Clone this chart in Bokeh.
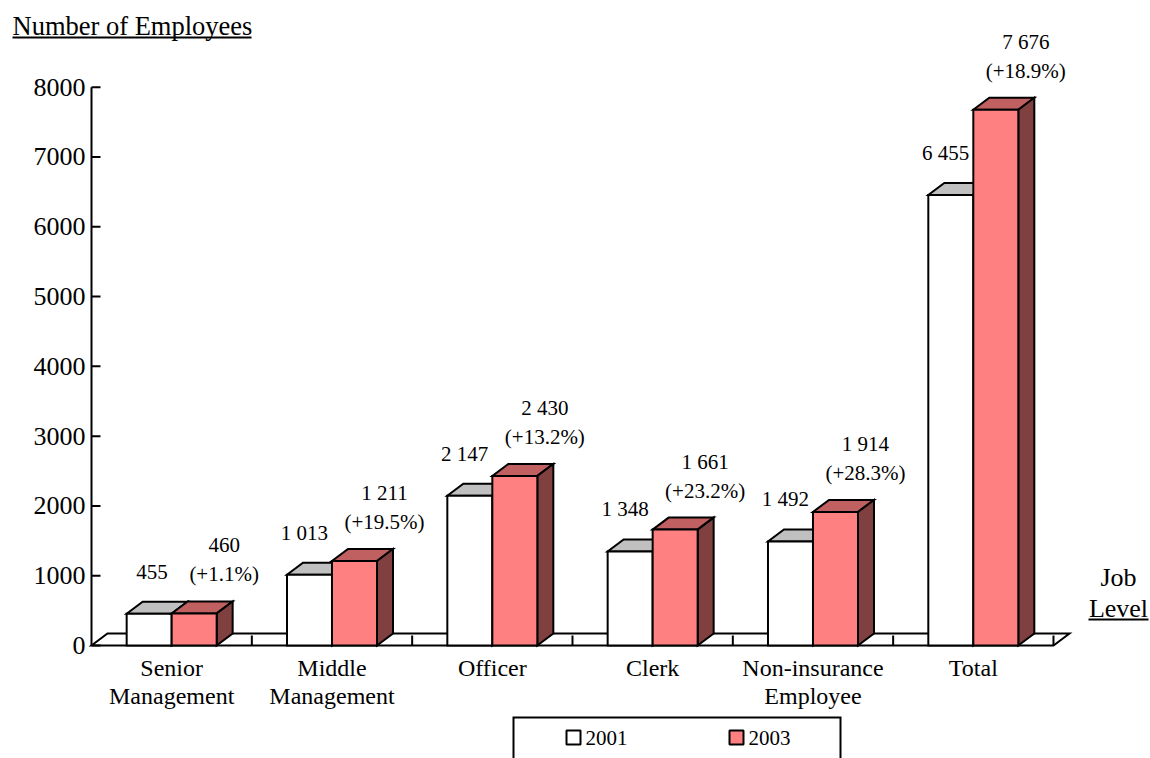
from bokeh.plotting import figure
from bokeh.models import Range1d
from bokeh.core.properties import value
from bokeh.embed import file_html
from bokeh.resources import INLINE

# ---------------- data ----------------
cat_line1 = ["Senior", "Middle", "Officer", "Clerk", "Non-insurance", "Total"]
cat_line2 = ["Management", "Management", "", "", "Employee", ""]
values_2001 = [455, 1013, 2147, 1348, 1492, 6455]
values_2003 = [460, 1211, 2430, 1661, 1914, 7676]
y_ticks = [0, 1000, 2000, 3000, 4000, 5000, 6000, 7000, 8000]
series_names = ["2001", "2003"]

# ---------------- layout constants (pixels) ----------------
W, H = 1150, 758
AX_X = 91.0          # pixel x of axis / category 0
BASE_Y = 645.0       # pixel y of value 0
PX_CAT = 160.33      # pixels per category
PX_VAL = 0.069788    # pixels per unit value
BAR_PX = 45.0
DX_PX, DY_PX = 16.0, 12.0
FONT = "Liberation Serif"

def xd(px):
    return (px - AX_X) / PX_CAT

def yd(py):
    return (BASE_Y - py) / PX_VAL

def fmt(v):
    return f"{v:,}".replace(",", " ")

bw = BAR_PX / PX_CAT
dxd = DX_PX / PX_CAT
dyd = DY_PX / PX_VAL
ncat = len(cat_line1)

p = figure(width=W, height=H, output_backend="svg", toolbar_location=None,
           x_axis_type=None, y_axis_type=None, min_border=0,
           x_range=Range1d(xd(0), xd(W)), y_range=Range1d(yd(H), yd(0)))
p.outline_line_color = None
p.background_fill_color = "white"

# floor
p.patch([0, ncat, ncat + dxd, dxd], [0, 0, dyd, dyd], fill_color="white",
        line_color="black", line_width=2, line_join="miter")
tick_len = 10 / PX_VAL
p.segment(x0=list(range(1, ncat + 1)), y0=[0] * ncat, x1=list(range(1, ncat + 1)),
          y1=[tick_len] * ncat, line_color="black", line_width=2)

# y axis
p.segment(x0=[0], y0=[0], x1=[0], y1=[max(y_ticks)], line_color="black", line_width=2)
p.segment(x0=[0] * len(y_ticks), y0=y_ticks, x1=[9 / PX_CAT] * len(y_ticks), y1=y_ticks,
          line_color="black", line_width=2)
p.text(x=[-6 / PX_CAT] * len(y_ticks), y=y_ticks, text=[str(t) for t in y_ticks],
       text_align="right", text_baseline="middle", text_font=value(FONT),
       text_font_size="26px", text_color="black")

# bars
def faces(vals, offset):
    fr_x, fr_y, tp_x, tp_y, sd_x, sd_y = [], [], [], [], [], []
    for i, v in enumerate(vals):
        c = i + 0.5
        L = c - bw + offset
        R = L + bw
        fr_x.append([L, R, R, L]); fr_y.append([0, 0, v, v])
        tp_x.append([L, R, R + dxd, L + dxd]); tp_y.append([v, v, v + dyd, v + dyd])
        sd_x.append([R, R + dxd, R + dxd, R]); sd_y.append([0, dyd, v + dyd, v])
    return fr_x, fr_y, tp_x, tp_y, sd_x, sd_y

for vals, off, cf, ct, cs in [(values_2001, 0, "white", "#c0c0c0", "#808080"),
                              (values_2003, bw, "#ff8080", "#c06060", "#804040")]:
    fx, fy, tx, ty, sx, sy = faces(vals, off)
    kw = dict(line_color="black", line_width=2, line_join="miter")
    p.patches(tx, ty, fill_color=ct, **kw)
    p.patches(sx, sy, fill_color=cs, **kw)
    p.patches(fx, fy, fill_color=cf, **kw)

# value labels
centers = [i + 0.5 for i in range(ncat)]
p.text(x=[c - 4 / PX_CAT for c in centers], y=[v + dyd + 30 / PX_VAL for v in values_2001],
       text=[fmt(v) for v in values_2001], text_align="right", text_baseline="middle",
       text_font=value(FONT), text_font_size="21px", text_color="black")
pct = [f"(+{(b / a - 1) * 100:.1f}%)" for a, b in zip(values_2001, values_2003)]
x3 = [c + bw / 2 + 30 / PX_CAT for c in centers]
p.text(x=x3, y=[v + dyd + 27 / PX_VAL for v in values_2003], text=pct,
       text_align="center", text_baseline="middle", text_font=value(FONT),
       text_font_size="21px", text_color="black")
p.text(x=x3, y=[v + dyd + 56 / PX_VAL for v in values_2003],
       text=[fmt(v) for v in values_2003], text_align="center", text_baseline="middle",
       text_font=value(FONT), text_font_size="21px", text_color="black")

# category labels
p.text(x=centers, y=[yd(667)] * ncat, text=cat_line1, text_align="center",
       text_baseline="middle", text_font=value(FONT), text_font_size="24px", text_color="black")
p.text(x=centers, y=[yd(695)] * ncat, text=cat_line2, text_align="center",
       text_baseline="middle", text_font=value(FONT), text_font_size="24px", text_color="black")

# axis titles
p.text(x=[xd(12)], y=[yd(25)], text=["Number of Employees"], text_align="left",
       text_baseline="middle", text_font=value(FONT), text_font_size="26.5px", text_color="black")
p.segment(x0=[xd(12)], y0=[yd(37)], x1=[xd(251)], y1=[yd(37)], line_color="black", line_width=2)
p.text(x=[xd(1118)] * 2, y=[yd(577), yd(608)], text=["Job", "Level"], text_align="center",
       text_baseline="middle", text_font=value(FONT), text_font_size="26px", text_color="black")
p.segment(x0=[xd(1088)], y0=[yd(619)], x1=[xd(1148)], y1=[yd(619)], line_color="black", line_width=2)

# legend
p.line([xd(513), xd(513), xd(840), xd(840)], [yd(770), yd(717), yd(717), yd(770)],
       line_color="black", line_width=2, line_join="miter")
p.quad(left=[xd(566), xd(729)], right=[xd(580), xd(743)], top=[yd(730)] * 2, bottom=[yd(744)] * 2,
       fill_color=["white", "#ff8080"], line_color="black", line_width=2)
p.text(x=[xd(585), xd(748)], y=[yd(737)] * 2, text=series_names, text_align="left",
       text_baseline="middle", text_font=value(FONT), text_font_size="21px", text_color="black")

open("out.html", "w").write(file_html(p, INLINE))
